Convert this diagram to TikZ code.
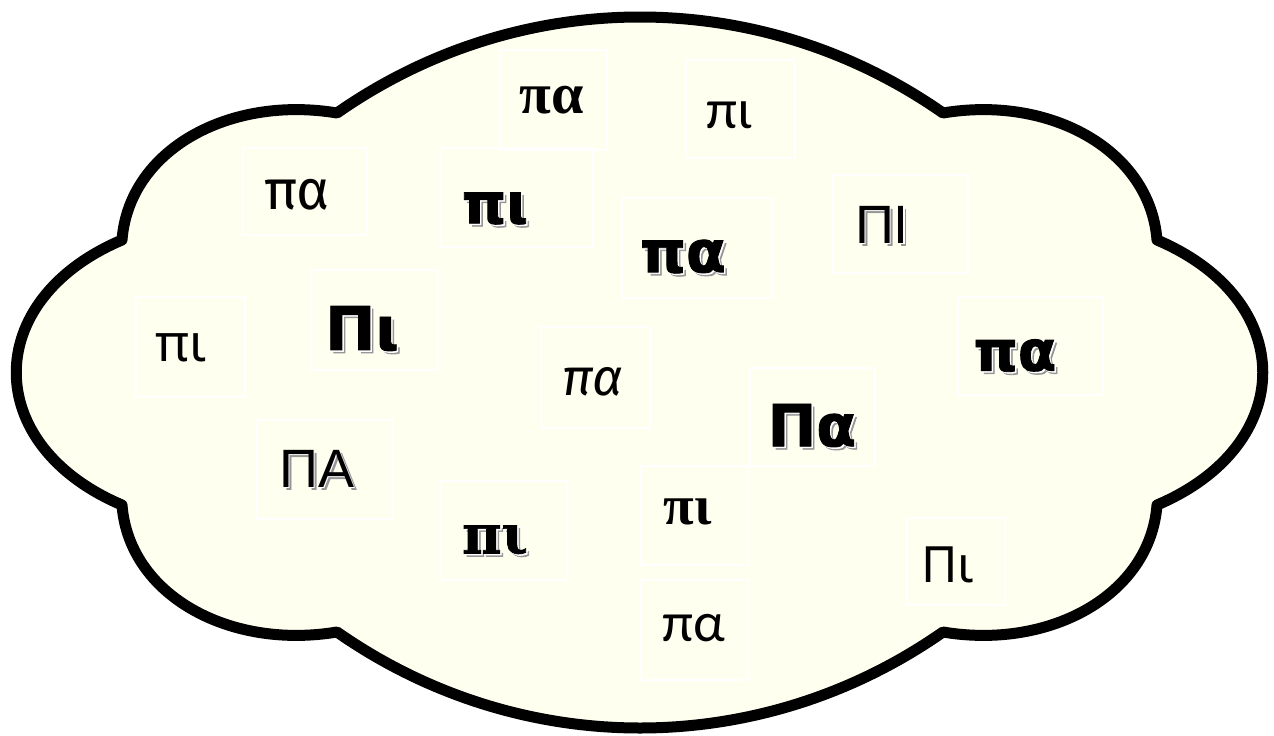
\documentclass[tikz,border=0pt]{standalone}
\usepackage{fontspec}
\newfontfamily\fserif{Liberation Serif}
\newfontfamily\fdserif[UprightFont={* Bold},FakeBold=1.2]{DejaVu Serif}
\newfontfamily\fheavy[UprightFont={* Bold},FakeBold=1.5]{DejaVu Sans}
\newfontfamily\fcarl{Carlito}
\newfontfamily\ffira{Fira Sans}
\newfontfamily\fnoto{Noto Sans}
\newfontfamily\flib{Liberation Sans}
\definecolor{cloudfill}{RGB}{255,255,240}
\definecolor{shadowgray}{RGB}{150,150,150}
\newcommand\shd[1]{\rlap{\hspace{3pt}\raisebox{-3pt}{\color{shadowgray}#1}}\rlap{\hspace{1.5pt}\raisebox{-1.5pt}{\color{white}#1}}#1}
\begin{document}
\begin{tikzpicture}[x=1pt,y=-1pt,
  cloud/.style={draw=black,line width=11pt,fill=cloudfill,line join=round},
  tbox/.style={draw=white,line width=1.5pt},
  lbl/.style={inner sep=0pt,anchor=center,text=black}]
\useasboundingbox (0,0) rectangle (1274,736);
% cloud outline
\coordinate (c1) at (337,113);
\coordinate (c2) at (943,113);
\coordinate (c3) at (1157,240);
\coordinate (c4) at (1157,505);
\coordinate (c5) at (943,632);
\coordinate (c6) at (337,632);
\coordinate (c7) at (122,505);
\coordinate (c8) at (122,240);
\draw[cloud] (c1) .. controls (520,-15) and (760,-15) .. (c2)
  .. controls (1050,95) and (1150,150) .. (c3)
  .. controls (1298,300) and (1298,445) .. (c4)
  .. controls (1150,595) and (1050,650) .. (c5)
  .. controls (760,760) and (520,760) .. (c6)
  .. controls (229,650) and (129,595) .. (c7)
  .. controls (-19,445) and (-19,300) .. (c8)
  .. controls (129,150) and (229,95) .. (c1) -- cycle;
% faint boxes
\draw[tbox] (500,50) rectangle (607,150) coordinate (b1);
\draw[tbox] (686,60) rectangle (795,158) coordinate (b2);
\draw[tbox] (243,148) rectangle (367,235) coordinate (b3);
\draw[tbox] (441,148) rectangle (593,247) coordinate (b4);
\draw[tbox] (622,198) rectangle (772,298) coordinate (b5);
\draw[tbox] (833,175) rectangle (968,273) coordinate (b6);
\draw[tbox] (136,297) rectangle (245,397) coordinate (b7);
\draw[tbox] (311,270) rectangle (438,370) coordinate (b8);
\draw[tbox] (257,420) rectangle (393,519) coordinate (b9);
\draw[tbox] (541,327) rectangle (650,428) coordinate (b10);
\draw[tbox] (750,368) rectangle (875,466) coordinate (b11);
\draw[tbox] (958,297) rectangle (1103,395) coordinate (b12);
\draw[tbox] (441,481) rectangle (567,580) coordinate (b13);
\draw[tbox] (641,466) rectangle (748,565) coordinate (b14);
\draw[tbox] (641,580) rectangle (748,680) coordinate (b15);
\draw[tbox] (907,518) rectangle (1005,605) coordinate (b16);
% labels
\node[lbl,font=\fserif\bfseries\fontsize{58}{60}\selectfont] (t1) at (552,100) {πα};
\node[lbl,font=\fcarl\fontsize{56}{58}\selectfont] (t2) at (730,115) {πι};
\node[lbl,font=\ffira\fontsize{56}{58}\selectfont] (t3) at (297,195) {πα};
\node[lbl,font=\fheavy\fontsize{56}{58}\selectfont] (t4) at (495,210) {\shd{πι}};
\node[lbl,font=\fheavy\fontsize{58}{60}\selectfont] (t5) at (683,258) {\shd{πα}};
\node[lbl,font=\flib\fontsize{54}{56}\selectfont] (t6) at (882,226) {\shd{ΠΙ}};
\node[lbl,font=\fnoto\fontsize{52}{54}\selectfont] (t7) at (181,348) {πι};
\node[lbl,font=\fheavy\fontsize{60}{62}\selectfont] (t8) at (362,330) {\shd{Πι}};
\node[lbl,font=\flib\fontsize{54}{56}\selectfont] (t9) at (317,470) {\shd{ΠΑ}};
\node[lbl,font=\ffira\itshape\fontsize{52}{54}\selectfont] (t10) at (593,382) {πα};
\node[lbl,font=\fheavy\fontsize{58}{60}\selectfont] (t11) at (812,427) {\shd{Πα}};
\node[lbl,font=\fheavy\fontsize{56}{58}\selectfont] (t12) at (1015,357) {\shd{πα}};
\node[lbl,font=\fdserif\fontsize{54}{56}\selectfont] (t13) at (495,542) {\shd{πι}};
\node[lbl,font=\fserif\bfseries\fontsize{56}{58}\selectfont] (t14) at (688,512) {πι};
\node[lbl,font=\fcarl\fontsize{56}{58}\selectfont] (t15) at (694,628) {πα};
\node[lbl,font=\fnoto\fontsize{50}{52}\selectfont] (t16) at (948,565) {Πι};
\end{tikzpicture}
\end{document}
